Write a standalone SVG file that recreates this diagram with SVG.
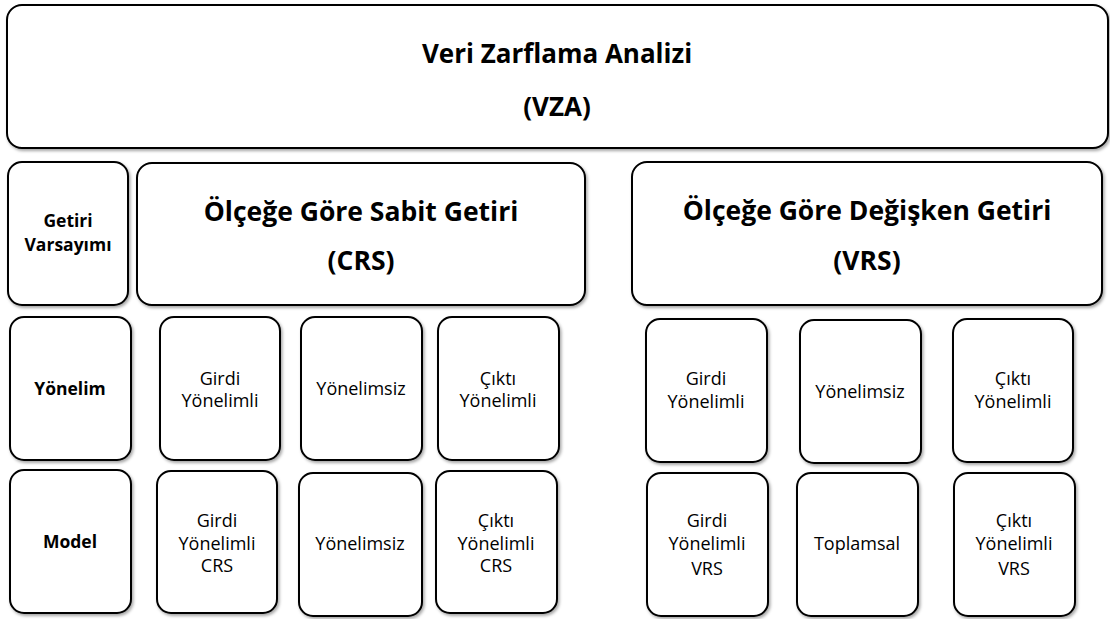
<svg xmlns="http://www.w3.org/2000/svg" width="1110" height="619" viewBox="0 0 1110 619">
<defs>
<filter id="sh" x="-10%" y="-10%" width="125%" height="125%">
<feDropShadow dx="1.5" dy="2" stdDeviation="1.5" flood-color="#000" flood-opacity="0.35"/>
</filter>
<style>
.box{fill:#fff;stroke:#000;stroke-width:2;filter:url(#sh)}
text{font-family:"Open Sans","Noto Sans","Liberation Sans",sans-serif;fill:#000;text-anchor:middle}
.t{font-size:26px;font-weight:bold}
.h{font-size:26.5px;font-weight:bold}
.b{font-size:17.5px;font-weight:bold}
.r{font-size:18px}
</style>
</defs>
<rect width="1110" height="619" fill="#fff"/>
<g id="vza"><rect class="box" x="7" y="5" width="1101" height="143" rx="15"/>
<text class="t" x="557" y="63">Veri Zarflama Analizi</text>
<text class="t" x="557" y="116">(VZA)</text></g>
<g id="getiri"><rect class="box" x="8" y="162" width="120" height="143" rx="14"/>
<text class="b" x="68" y="227">Getiri</text>
<text class="b" x="68" y="251">Varsayımı</text></g>
<g id="crs"><rect class="box" x="137" y="163" width="448" height="142" rx="15"/>
<text class="h" x="361" y="221">Ölçeğe Göre Sabit Getiri</text>
<text class="h" x="361" y="270">(CRS)</text></g>
<g id="vrs"><rect class="box" x="632" y="162" width="470" height="143" rx="15"/>
<text class="h" x="867" y="220">Ölçeğe Göre Değişken Getiri</text>
<text class="h" x="867" y="270">(VRS)</text></g>
<g id="yonelim"><rect class="box" x="10" y="317" width="121" height="143" rx="14"/>
<text class="b" x="70" y="395">Yönelim</text></g>
<g id="model"><rect class="box" x="10" y="470" width="121" height="143" rx="14"/>
<text class="b" x="70" y="548">Model</text></g>
<g id="crs-girdi"><rect class="box" x="160" y="317" width="120" height="143" rx="14"/>
<text class="r" x="220" y="385">Girdi</text>
<text class="r" x="220" y="407">Yönelimli</text></g>
<g id="crs-yonelimsiz"><rect class="box" x="301" y="317" width="121" height="143" rx="14"/>
<text class="r" x="361" y="395">Yönelimsiz</text></g>
<g id="crs-cikti"><rect class="box" x="438" y="317" width="121" height="143" rx="14"/>
<text class="r" x="498" y="385">Çıktı</text>
<text class="r" x="498" y="407">Yönelimli</text></g>
<g id="crs-girdi-model"><rect class="box" x="157" y="471" width="120" height="142" rx="14"/>
<text class="r" x="217" y="527">Girdi</text>
<text class="r" x="217" y="550">Yönelimli</text>
<text class="r" x="217" y="572">CRS</text></g>
<g id="crs-yonelimsiz-model"><rect class="box" x="299" y="473" width="123" height="143" rx="14"/>
<text class="r" x="360" y="550">Yönelimsiz</text></g>
<g id="crs-cikti-model"><rect class="box" x="436" y="471" width="121" height="142" rx="14"/>
<text class="r" x="496" y="527">Çıktı</text>
<text class="r" x="496" y="550">Yönelimli</text>
<text class="r" x="496" y="572">CRS</text></g>
<g id="vrs-girdi"><rect class="box" x="646" y="319" width="121" height="143" rx="14"/>
<text class="r" x="706" y="385">Girdi</text>
<text class="r" x="706" y="408">Yönelimli</text></g>
<g id="vrs-yonelimsiz"><rect class="box" x="800" y="320" width="121" height="143" rx="14"/>
<text class="r" x="860" y="398">Yönelimsiz</text></g>
<g id="vrs-cikti"><rect class="box" x="953" y="319" width="120" height="143" rx="14"/>
<text class="r" x="1013" y="385">Çıktı</text>
<text class="r" x="1013" y="408">Yönelimli</text></g>
<g id="vrs-girdi-model"><rect class="box" x="647" y="473" width="121" height="143" rx="14"/>
<text class="r" x="707" y="527">Girdi</text>
<text class="r" x="707" y="550">Yönelimli</text>
<text class="r" x="707" y="575">VRS</text></g>
<g id="vrs-toplamsal"><rect class="box" x="797" y="473" width="121" height="143" rx="14"/>
<text class="r" x="857" y="550">Toplamsal</text></g>
<g id="vrs-cikti-model"><rect class="box" x="954" y="473" width="121" height="143" rx="14"/>
<text class="r" x="1014" y="527">Çıktı</text>
<text class="r" x="1014" y="550">Yönelimli</text>
<text class="r" x="1014" y="575">VRS</text></g>
<g id="connectors"></g>
</svg>
